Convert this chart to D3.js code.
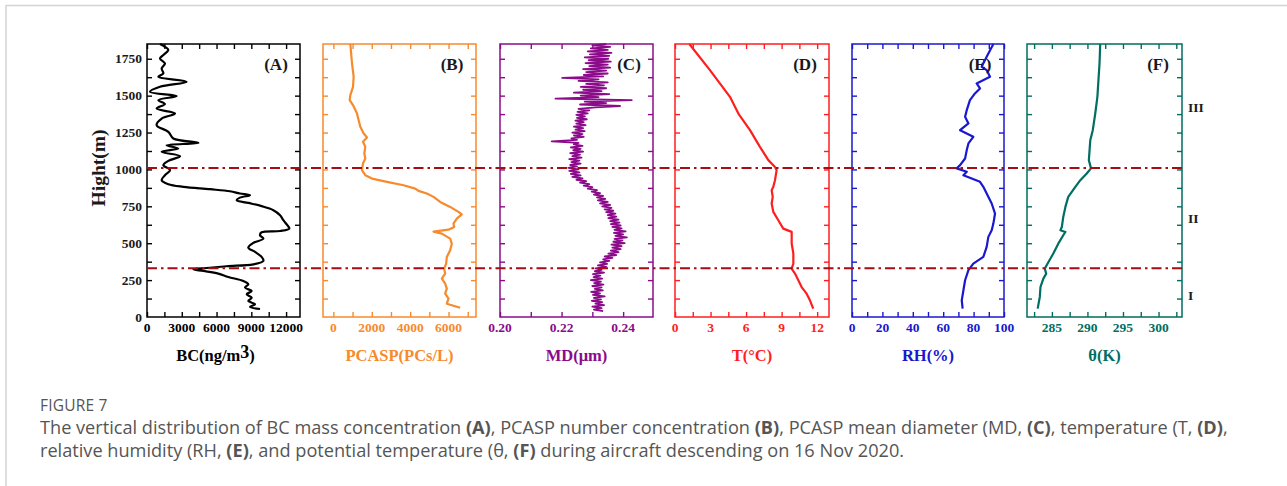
<!DOCTYPE html>
<html>
<head>
<meta charset="utf-8">
<script src="https://cdn.jsdelivr.net/npm/d3@7"></script>
<style>
	body { margin: 0; background: #fff; }
	svg text.serif { font-family: "Liberation Serif", "Times New Roman", serif; font-weight: bold; }
	svg text.cap { font-family: "Open Sans", Lato, sans-serif; fill: #555; }
</style>
</head>
<body>
<svg id="chart" width="1287" height="486"></svg>
<script>
'use strict';

// altitude (m) / value pairs
var bcAlt = [1850, 1831, 1809, 1775, 1752, 1718, 1684, 1651, 1628, 1594, 1560, 1526, 1497, 1470, 1443, 1413, 1379, 1345, 1300, 1255, 1210, 1180, 1164, 1142, 1119, 1090, 1058, 1029, 995, 961, 927, 900, 882, 866, 852, 837, 825, 809, 791, 773, 751, 724, 690, 656, 622, 599, 583, 574, 554, 531, 502, 470, 441, 407, 380, 357, 344, 332, 323, 312, 294, 271, 244, 222, 199, 176, 154, 131, 109, 86, 68, 54];
var bcVal = [1120, 1550, 1840, 1410, 1120, 1550, 1265, 1410, 980, 3420, 1120, 260, 2560, 980, 1550, 830, 2420, 1265, 830, 1840, 2270, 4430, 1700, 2700, 1265, 2850, 1840, 1410, 1985, 1550, 1265, 1840, 3135, 5440, 7160, 8020, 8890, 8020, 7740, 8740, 9890, 10900, 11480, 11760, 12110, 12280, 11480, 9890, 9750, 10040, 9170, 8740, 9320, 9890, 10040, 9170, 6870, 5150, 4000, 4860, 6150, 7020, 8310, 8740, 8460, 9030, 8600, 9030, 8740, 9320, 8890, 9750];

var pcaspAlt = [1850, 1718, 1628, 1560, 1504, 1470, 1436, 1379, 1334, 1289, 1244, 1216, 1187, 1153, 1108, 1074, 1040, 995, 961, 938, 916, 893, 870, 855, 837, 814, 780, 746, 712, 696, 667, 633, 610, 592, 579, 565, 531, 497, 452, 407, 362, 328, 294, 260, 226, 192, 158, 124, 90, 63];
var pcaspVal = [884, 971, 1057, 1023, 884, 849, 1023, 1231, 1317, 1404, 1577, 1751, 1543, 1664, 1612, 1664, 1543, 1491, 1664, 2011, 2791, 3657, 4264, 4437, 4871, 5217, 5564, 6084, 6517, 6690, 6430, 6257, 6292, 5997, 5217, 5651, 6084, 6170, 6084, 5910, 5876, 5772, 5824, 5651, 5824, 5910, 5824, 5997, 5910, 6604];

// mean diameter, every 10 m from 40 m to 1850 m
var mdAlt = [40, 50, 60, 70, 80, 90, 100, 110, 120, 130, 140, 150, 160, 170, 180, 190, 200, 210, 220, 230, 240, 250, 260, 270, 280, 290, 300, 310, 320, 330, 340, 350, 360, 370, 380, 390, 400, 410, 420, 430, 440, 450, 460, 470, 480, 490, 500, 510, 520, 530, 540, 550, 560, 570, 580, 590, 600, 610, 620, 630, 640, 650, 660, 670, 680, 690, 700, 710, 720, 730, 740, 750, 760, 770, 780, 790, 800, 810, 820, 830, 840, 850, 860, 870, 880, 890, 900, 910, 920, 930, 940, 950, 960, 970, 980, 990, 1000, 1010, 1020, 1030, 1040, 1050, 1060, 1070, 1080, 1090, 1100, 1110, 1120, 1130, 1140, 1150, 1160, 1170, 1180, 1190, 1200, 1210, 1220, 1230, 1240, 1250, 1260, 1270, 1280, 1290, 1300, 1310, 1320, 1330, 1340, 1350, 1360, 1370, 1380, 1390, 1400, 1410, 1420, 1430, 1440, 1450, 1460, 1470, 1480, 1490, 1500, 1510, 1520, 1530, 1540, 1550, 1560, 1570, 1580, 1590, 1600, 1610, 1620, 1630, 1640, 1650, 1660, 1670, 1680, 1690, 1700, 1710, 1720, 1730, 1740, 1750, 1760, 1770, 1780, 1790, 1800, 1810, 1820, 1830, 1840, 1850];
var mdVal = [0.2335, 0.2305, 0.2330, 0.2300, 0.2338, 0.2310, 0.2332, 0.2298, 0.2328, 0.2305, 0.2340, 0.2302, 0.2325, 0.2296, 0.2334, 0.2308, 0.2330, 0.2300, 0.2336, 0.2306, 0.2328, 0.2295, 0.2332, 0.2304, 0.2326, 0.2302, 0.2338, 0.2308, 0.2330, 0.2310, 0.2345, 0.2318, 0.2348, 0.2325, 0.2355, 0.2335, 0.2365, 0.2340, 0.2378, 0.2352, 0.2385, 0.2360, 0.2392, 0.2365, 0.2395, 0.2362, 0.2405, 0.2368, 0.2398, 0.2372, 0.2412, 0.2375, 0.2400, 0.2370, 0.2408, 0.2372, 0.2395, 0.2365, 0.2392, 0.2360, 0.2388, 0.2358, 0.2385, 0.2352, 0.2378, 0.2350, 0.2375, 0.2345, 0.2368, 0.2340, 0.2362, 0.2332, 0.2358, 0.2325, 0.2350, 0.2318, 0.2342, 0.2315, 0.2335, 0.2305, 0.2325, 0.2298, 0.2315, 0.2285, 0.2300, 0.2272, 0.2290, 0.2260, 0.2280, 0.2248, 0.2268, 0.2235, 0.2262, 0.2230, 0.2258, 0.2225, 0.2255, 0.2222, 0.2250, 0.2228, 0.2262, 0.2232, 0.2258, 0.2225, 0.2265, 0.2235, 0.2260, 0.2228, 0.2270, 0.2238, 0.2262, 0.2230, 0.2268, 0.2240, 0.2255, 0.2168, 0.2250, 0.2232, 0.2272, 0.2240, 0.2268, 0.2235, 0.2275, 0.2245, 0.2270, 0.2240, 0.2278, 0.2248, 0.2272, 0.2245, 0.2282, 0.2250, 0.2276, 0.2248, 0.2285, 0.2252, 0.2290, 0.2255, 0.2310, 0.2390, 0.2260, 0.2345, 0.2275, 0.2428, 0.2180, 0.2320, 0.2262, 0.2355, 0.2240, 0.2330, 0.2270, 0.2345, 0.2262, 0.2338, 0.2280, 0.2350, 0.2255, 0.2320, 0.2202, 0.2335, 0.2272, 0.2350, 0.2280, 0.2345, 0.2270, 0.2358, 0.2290, 0.2350, 0.2278, 0.2360, 0.2288, 0.2352, 0.2275, 0.2355, 0.2292, 0.2362, 0.2285, 0.2350, 0.2295, 0.2358, 0.2300, 0.2345];

var tAlt = [1850, 1673, 1492, 1379, 1266, 1153, 1063, 1017, 995, 927, 882, 859, 814, 769, 712, 656, 599, 577, 497, 430, 362, 328, 294, 249, 203, 158, 113, 57];
var tVal = [1.21, 2.95, 4.64, 5.35, 6.33, 7.17, 7.88, 8.44, 8.58, 8.44, 8.30, 8.16, 8.25, 8.16, 8.30, 8.72, 9.14, 9.85, 9.85, 9.99, 9.99, 9.85, 10.13, 10.41, 10.69, 11.11, 11.39, 11.67];

var rhAlt = [1850, 1764, 1696, 1673, 1628, 1583, 1549, 1515, 1470, 1402, 1357, 1312, 1266, 1221, 1176, 1131, 1074, 1029, 1007, 984, 961, 916, 882, 837, 769, 701, 633, 588, 543, 475, 407, 362, 317, 249, 181, 113, 57];
var rhVal = [93.0, 88.6, 85.3, 88.6, 90.8, 82.0, 84.2, 80.9, 77.6, 75.5, 74.4, 76.6, 71.1, 79.8, 76.6, 75.5, 74.4, 71.1, 68.9, 75.5, 73.3, 84.2, 86.4, 88.6, 91.9, 94.1, 93.0, 91.9, 89.7, 88.6, 86.4, 79.8, 76.6, 74.4, 73.3, 72.2, 72.8];

var thetaAlt = [1850, 1718, 1605, 1492, 1379, 1266, 1198, 1131, 1063, 1007, 972, 927, 882, 814, 746, 678, 610, 588, 576, 554, 497, 430, 362, 328, 294, 260, 204, 136, 57];
var thetaVal = [291.8, 291.7, 291.55, 291.4, 291.1, 290.75, 290.4, 290.3, 290.2, 290.5, 289.9, 289.0, 288.3, 287.3, 286.9, 286.6, 286.4, 286.2, 286.9, 286.6, 285.9, 285.2, 284.4, 284.0, 284.2, 283.8, 283.4, 283.3, 283.0];

// boundary layers and their names
var layerAlt = [330, 1010];
var layerNames = ['I', 'II', 'III'];
var layerNameAlt = [150, 672, 1423];

// axis ticks
var altTicks = [0, 250, 500, 750, 1000, 1250, 1500, 1750];
var bcTicks = [0, 3000, 6000, 9000, 12000];
var pcaspTicks = [0, 2000, 4000, 6000];
var mdTicks = [0.20, 0.22, 0.24];
var tTicks = [0, 3, 6, 9, 12];
var rhTicks = [0, 20, 40, 60, 80, 100];
var thetaTicks = [285, 290, 295, 300];

var panels = [
	{ tag: '(A)', alt: bcAlt, val: bcVal, domain: [0, 13200], ticks: bcTicks, minor: 1500, fmt: d3.format('d'), color: '#000000', left: 147, right: 300, title: 'BC', curve: d3.curveCatmullRom.alpha(0.5), sw: 2.2 },
	{ tag: '(B)', alt: pcaspAlt, val: pcaspVal, domain: [-540, 7430], ticks: pcaspTicks, minor: 1000, fmt: d3.format('d'), color: '#f78a2c', left: 323, right: 476, title: 'PCASP(PCs/L)', curve: d3.curveLinear, sw: 2.2 },
	{ tag: '(C)', alt: mdAlt, val: mdVal, domain: [0.20, 0.2497], ticks: mdTicks, minor: 0.01, fmt: d3.format('.2f'), color: '#8b0b8b', left: 500, right: 653, title: 'MD(μm)', curve: d3.curveLinear, sw: 1.8 },
	{ tag: '(D)', alt: tAlt, val: tVal, domain: [0, 13], ticks: tTicks, minor: 1.5, fmt: d3.format('d'), color: '#ff1e1e', left: 675, right: 829, title: 'T(°C)', curve: d3.curveLinear, sw: 2.2 },
	{ tag: '(E)', alt: rhAlt, val: rhVal, domain: [0, 100], ticks: rhTicks, minor: 10, fmt: d3.format('d'), color: '#1818d0', left: 852, right: 1004, title: 'RH(%)', curve: d3.curveLinear, sw: 2.2 },
	{ tag: '(F)', alt: thetaAlt, val: thetaVal, domain: [281.5, 303.3], ticks: thetaTicks, minor: 2.5, fmt: d3.format('d'), color: '#006e62', left: 1027, right: 1182, title: 'θ(K)', curve: d3.curveLinear, sw: 2.2 }
];

var svg = d3.select('#chart');
var plotTop = 44, plotBottom = 317;

// page frame
svg.append('path')
	.attr('d', 'M6,486 V5.5 H1287')
	.attr('fill', 'none')
	.attr('stroke', '#d4d4d4')
	.attr('stroke-width', 1.5);

var y = d3.scaleLinear().domain([0, 1850]).range([plotBottom, plotTop]);

panels.forEach(function(p, i){

	var x = d3.scaleLinear().domain(p.domain).range([p.left, p.right]);
	var g = svg.append('g').attr('class', 'panel');

	var minorTicks = d3.range(Math.ceil(p.domain[0] / p.minor) * p.minor, p.domain[1] + 1e-9, p.minor);

	// ticks, all pointing inward
	g.append('g')
		.attr('transform', 'translate(0,' + plotBottom + ')')
		.call(d3.axisBottom(x).tickValues(minorTicks).tickSize(-5).tickFormat(''));
	g.append('g')
		.attr('transform', 'translate(0,' + plotTop + ')')
		.call(d3.axisTop(x).tickValues(minorTicks).tickSize(-5).tickFormat(''));
	g.append('g')
		.attr('transform', 'translate(' + p.left + ',0)')
		.call(d3.axisLeft(y).tickValues(d3.range(125, 1850, 125)).tickSize(-5).tickFormat(''));
	g.append('g')
		.attr('transform', 'translate(' + p.right + ',0)')
		.call(d3.axisRight(y).tickValues(d3.range(125, 1850, 125)).tickSize(-5).tickFormat(''));

	g.selectAll('.domain').remove();
	g.selectAll('.tick line').attr('stroke', p.color).attr('stroke-width', 1.4);

	// tick labels
	g.selectAll('text.xlab')
		.data(p.ticks)
		.enter()
		.append('text')
		.attr('class', 'serif xlab')
		.attr('x', function(d){ return x(d); })
		.attr('y', 332)
		.attr('text-anchor', 'middle')
		.attr('font-size', 13.5)
		.attr('fill', p.color)
		.text(p.fmt);

	// profile
	var pts = p.alt.map(function(a, k){ return [p.val[k], a]; });
	g.append('path')
		.datum(pts)
		.attr('fill', 'none')
		.attr('stroke', p.color)
		.attr('stroke-width', p.sw)
		.attr('stroke-linejoin', 'round')
		.attr('d', d3.line().curve(p.curve).x(function(d){ return x(d[0]); }).y(function(d){ return y(d[1]); }));

	// frame
	g.append('rect')
		.attr('x', p.left)
		.attr('y', plotTop)
		.attr('width', p.right - p.left)
		.attr('height', plotBottom - plotTop)
		.attr('fill', 'none')
		.attr('stroke', p.color)
		.attr('stroke-width', 1.5);

	g.append('text')
		.attr('class', 'serif')
		.attr('x', p.right - 24)
		.attr('y', 70)
		.attr('text-anchor', 'middle')
		.attr('font-size', 17)
		.attr('fill', '#1a1a1a')
		.text(p.tag);

	var title = g.append('text')
		.attr('class', 'serif')
		.attr('x', (p.left + p.right) / 2 - (i === 0 ? 8 : 0))
		.attr('y', 361)
		.attr('text-anchor', 'middle')
		.attr('font-size', 16.5)
		.attr('fill', p.color);
	if (i === 0) {
		title.append('tspan').text('BC(ng/m');
		title.append('tspan').attr('dy', -3).attr('font-size', 18).text('3');
		title.append('tspan').attr('dy', 3).text(')');
	} else {
		title.text(p.title);
	}
});

// altitude axis labels
svg.selectAll('text.ylab')
	.data(altTicks)
	.enter()
	.append('text')
	.attr('class', 'serif ylab')
	.attr('x', 142)
	.attr('y', function(d){ return y(d) + 4.5; })
	.attr('text-anchor', 'end')
	.attr('font-size', 13.5)
	.attr('fill', '#1a1a1a')
	.text(function(d){ return d; });

svg.append('text')
	.attr('class', 'serif')
	.attr('transform', 'translate(105,168) rotate(-90)')
	.attr('text-anchor', 'middle')
	.attr('font-size', 19.5)
	.attr('fill', '#1a1a1a')
	.text('Hight(m)');

// layer boundaries
svg.selectAll('line.layer')
	.data(layerAlt)
	.enter()
	.append('line')
	.attr('class', 'layer')
	.attr('x1', 147)
	.attr('x2', 1182)
	.attr('y1', y)
	.attr('y2', y)
	.attr('stroke', '#a50d12')
	.attr('stroke-width', 2)
	.attr('stroke-dasharray', '10,4,2.5,4');

svg.selectAll('text.layername')
	.data(layerNames)
	.enter()
	.append('text')
	.attr('class', 'serif layername')
	.attr('x', 1188)
	.attr('y', function(d, k){ return y(layerNameAlt[k]) + 5; })
	.attr('font-size', 13.5)
	.attr('fill', '#1a1a1a')
	.text(function(d){ return d; });

// caption
svg.append('text')
	.attr('class', 'cap')
	.attr('x', 40)
	.attr('y', 411)
	.attr('font-size', 15.5)
	.attr('letter-spacing', 0.2)
	.text('FIGURE 7');

var capLines = [
	[['The vertical distribution of BC mass concentration ', 0], ['(A)', 1], [', PCASP number concentration ', 0], ['(B)', 1], [', PCASP mean diameter (MD, ', 0], ['(C)', 1], [', temperature (T, ', 0], ['(D)', 1], [',', 0]],
	[['relative humidity (RH, ', 0], ['(E)', 1], [', and potential temperature (θ, ', 0], ['(F)', 1], [' during aircraft descending on 16 Nov 2020.', 0]]
];

var capNodes = capLines.map(function(parts, k){
	var t = svg.append('text')
		.attr('class', 'cap')
		.attr('x', 40)
		.attr('y', 434 + k * 22.5)
		.attr('font-size', 14);
	parts.forEach(function(s){
		t.append('tspan').attr('font-weight', s[1] ? 'bold' : null).text(s[0]);
	});
	return t;
});

// fit the first caption line to its width in the figure
var w = capNodes[0].node().getComputedTextLength();
var fs = 14 * 1188 / w;
capNodes.forEach(function(t){ t.attr('font-size', fs); });
</script>
</body>
</html>
